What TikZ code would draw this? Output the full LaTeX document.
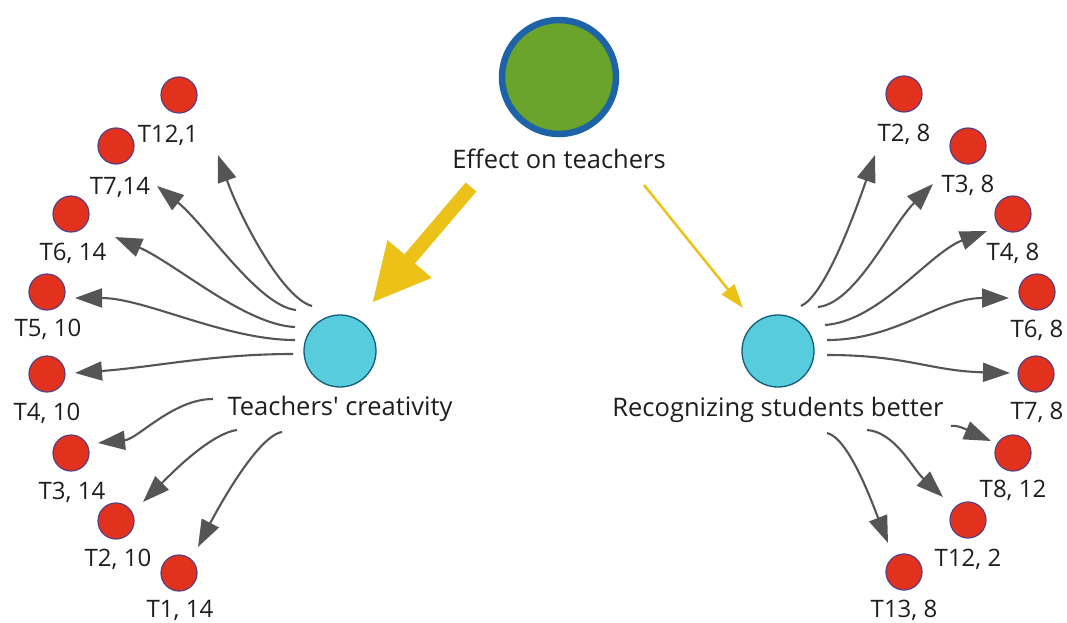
\documentclass[tikz,border=0pt]{standalone}
\usepackage{fontspec}
\setmainfont{Open Sans}
\usetikzlibrary{arrows.meta,calc}
\definecolor{effgreen}{RGB}{107,164,42}
\definecolor{effblue}{RGB}{30,98,168}
\definecolor{cyanfill}{RGB}{86,204,220}
\definecolor{cyanline}{RGB}{22,92,120}
\definecolor{redfill}{RGB}{226,50,30}
\definecolor{redline}{RGB}{88,62,128}
\definecolor{conngray}{RGB}{85,85,85}
\definecolor{yel}{RGB}{236,194,24}
\definecolor{txt}{RGB}{30,30,30}
\tikzset{
  maincirc/.style={circle,draw=effblue,line width=6.5pt,fill=effgreen,minimum size=114pt,inner sep=0pt},
  subcirc/.style={circle,draw=cyanline,line width=1.3pt,fill=cyanfill,minimum size=72pt,inner sep=0pt},
  leaf/.style={circle,draw=redline,line width=1.2pt,fill=redfill,minimum size=36pt,inner sep=0pt},
  bigtext/.style={anchor=base,inner sep=0pt,text=txt,font=\fontsize{25.5}{30}\selectfont},
  leaftext/.style={anchor=base,inner sep=0pt,text=txt,font=\fontsize{24}{28}\selectfont},
  conn/.style={draw=conngray,line width=2.1pt,-{Triangle[length=27pt,width=19pt]}},
  bigyel/.style={draw=yel,line width=14pt,-{Triangle[length=58pt,width=54pt]}},
  thinyel/.style={draw=yel,line width=2.5pt,-{Triangle[length=24pt,width=16pt]}}
}
\begin{document}
\begin{tikzpicture}[x=1pt,y=-1pt]
\useasboundingbox[fill=white] (0,0) rectangle (1067,623);

% main nodes
\node[maincirc] (eff) at (559,77) {};
\node[bigtext] (efft) at (559,168) {Effect on teachers};
\node[subcirc] (lc) at (340,351) {};
\node[bigtext] (lct) at (340,415) {Teachers\textquotesingle{} creativity};
\node[subcirc] (rc) at (778,351) {};
\node[bigtext] (rct) at (778,416) {Recognizing students better};

% left leaves
\node[leaf] (a1) at (179,95) {};  \node[leaftext] (a1t) at (168,142) {T12,1};
\node[leaf] (a2) at (116,146) {}; \node[leaftext] (a2t) at (120,194) {T7,14};
\node[leaf] (a3) at (71,214) {};  \node[leaftext] (a3t) at (73,260) {T6, 14};
\node[leaf] (a4) at (47,292) {};  \node[leaftext] (a4t) at (48,336) {T5, 10};
\node[leaf] (a5) at (47,374) {};  \node[leaftext] (a5t) at (47,420) {T4, 10};
\node[leaf] (a6) at (71,453) {};  \node[leaftext] (a6t) at (72,499) {T3, 14};
\node[leaf] (a7) at (116,521) {}; \node[leaftext] (a7t) at (118,566) {T2, 10};
\node[leaf] (a8) at (179,573) {}; \node[leaftext] (a8t) at (180,617) {T1, 14};

% right leaves
\node[leaf] (b1) at (904,94) {};   \node[leaftext] (b1t) at (904,141) {T2, 8};
\node[leaf] (b2) at (968,146) {};  \node[leaftext] (b2t) at (968,192) {T3, 8};
\node[leaf] (b3) at (1013,214) {}; \node[leaftext] (b3t) at (1013,260) {T4, 8};
\node[leaf] (b4) at (1037,292) {}; \node[leaftext] (b4t) at (1037,337) {T6, 8};
\node[leaf] (b5) at (1036,374) {}; \node[leaftext] (b5t) at (1037,419) {T7, 8};
\node[leaf] (b6) at (1013,453) {}; \node[leaftext] (b6t) at (1013,497) {T8, 12};
\node[leaf] (b7) at (968,520) {};  \node[leaftext] (b7t) at (968,566) {T12, 2};
\node[leaf] (b8) at (904,572) {};  \node[leaftext] (b8t) at (904,617) {T13, 8};

% yellow arrows
\draw[bigyel] ($(eff)+(-88,110)$) -- ($(lc)+(32,-48)$);
\draw[thinyel] ($(eff)+(85,108)$) -- ($(rc)+(-35,-43)$);

% left connectors
\draw[conn] ($(lc)+(-28,-45)$) .. controls +(-30,-8) and +(22,62) .. ($(a1)+(39,60)$);
\draw[conn] ($(lc)+(-44,-41)$) .. controls +(-38,-4) and +(48,38) .. ($(a2)+(41,40)$);
\draw[conn] ($(lc)+(-45,-24)$) .. controls +(-50,-2) and +(60,26) .. ($(a3)+(44,23)$);
\draw[conn] ($(lc)+(-45,-11)$) .. controls +(-70,0) and +(70,0) .. ($(a4)+(28,6)$);
\draw[conn] ($(lc)+(-47,3)$) .. controls +(-80,0) and +(80,-6) .. ($(a5)+(28,-1)$);
\draw[conn] ($(lc)+(-127,48)$) .. controls +(-40,0) and +(40,-4) .. ($(a6)+(27,-10)$);
\draw[conn] ($(lc)+(-103,79)$) .. controls +(-28,4) and +(25,-25) .. ($(a7)+(27,-19)$);
\draw[conn] ($(lc)+(-58,81)$) .. controls +(-25,4) and +(18,-35) .. ($(a8)+(19,-26)$);

% right connectors
\draw[conn] ($(rc)+(23,-45)$) .. controls +(22,-10) and +(-25,72) .. ($(b1)+(-29,61)$);
\draw[conn] ($(rc)+(40,-44)$) .. controls +(38,-4) and +(-42,42) .. ($(b2)+(-35,38)$);
\draw[conn] ($(rc)+(47,-26)$) .. controls +(55,-4) and +(-58,22) .. ($(b3)+(-26,17)$);
\draw[conn] ($(rc)+(49,-11)$) .. controls +(70,0) and +(-70,0) .. ($(b4)+(-28,6)$);
\draw[conn] ($(rc)+(49,4)$) .. controls +(80,0) and +(-80,-2) .. ($(b5)+(-26,-1)$);
\draw[conn] ($(rc)+(173,75)$) .. controls +(8,-2) and +(-14,-6) .. ($(b6)+(-22,-12)$);
\draw[conn] ($(rc)+(89,79)$) .. controls +(28,2) and +(-30,-28) .. ($(b7)+(-25,-23)$);
\draw[conn] ($(rc)+(49,82)$) .. controls +(22,5) and +(-15,-38) .. ($(b8)+(-16,-29)$);
\end{tikzpicture}
\end{document}
